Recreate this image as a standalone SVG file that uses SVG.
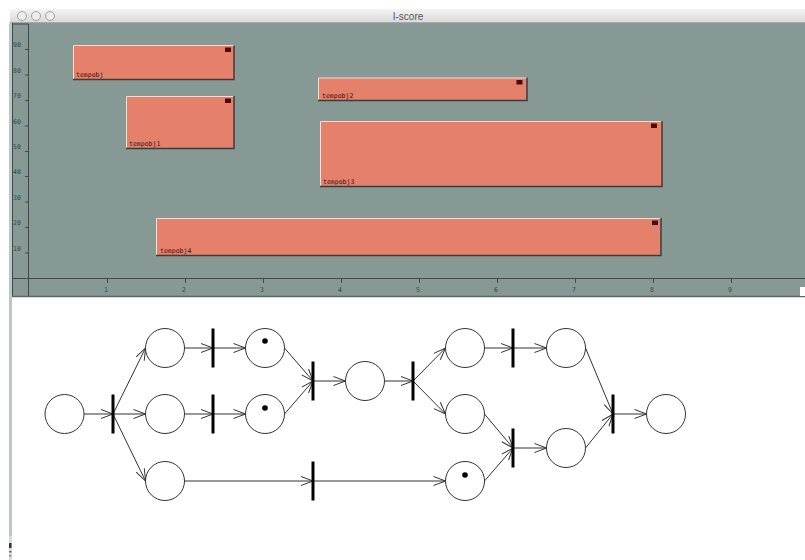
<svg xmlns="http://www.w3.org/2000/svg" width="805" height="560" viewBox="0 0 805 560">
<defs>
<linearGradient id="tb" x1="0" y1="0" x2="0" y2="1"><stop offset="0" stop-color="#f4f4f4"/><stop offset="1" stop-color="#d8d8d8"/></linearGradient>
<marker id="arr" markerWidth="14" markerHeight="12" refX="13" refY="5" orient="auto" markerUnits="userSpaceOnUse"><path d="M1,0.5 L13,5 L1,9.5" fill="none" stroke="#333" stroke-width="1"/></marker>
</defs>
<style>
.ax{font-family:"DejaVu Sans Mono","Liberation Mono",monospace;font-size:6.5px;fill:#3a4644}
.lbl{font-family:"DejaVu Sans Mono","Liberation Mono",monospace;font-size:6.5px;fill:#3a1212}
.box{fill:#e5806a}
.hi{fill:none;stroke:#f3dcd2;stroke-width:1}
.sh{fill:none;stroke:#3c3c3c;stroke-width:1.5}
.sq{fill:#4a0a0a}
.pl{fill:#fff;stroke:#333;stroke-width:1}
.tr{stroke:#000;stroke-width:3}
.tok{fill:#000}
.ed{stroke:#333;stroke-width:1;fill:none;marker-end:url(#arr)}
.grid{stroke:#3e4a48;stroke-width:1}
.tl{fill:#ededed;stroke:#a0a0a0;stroke-width:1}
</style>
<rect x="0" y="0" width="805" height="560" fill="#fff"/>
<g id="window">
<path d="M10,23 L10,13 Q10,9 14,9 L805,9 L805,23 Z" fill="url(#tb)"/>
<line x1="10" y1="22.5" x2="805" y2="22.5" stroke="#a8a8a8"/>
<circle class="tl" cx="22" cy="16" r="4.5"/>
<circle class="tl" cx="36" cy="16" r="4.5"/>
<circle class="tl" cx="50" cy="16" r="4.5"/>
<text x="408" y="20" text-anchor="middle" font-family="Liberation Sans, DejaVu Sans, sans-serif" font-size="10" fill="#555">I-score</text>
<rect x="9" y="23" width="3" height="513" fill="#b7c9c4"/>
<rect x="12" y="23" width="793" height="273" fill="#879995"/>
<line x1="12" y1="24" x2="28.5" y2="24" class="grid"/>
<line x1="12.5" y1="23" x2="12.5" y2="296" class="grid"/>
<line x1="28.5" y1="24" x2="28.5" y2="296" class="grid"/>
<line x1="12" y1="278.5" x2="805" y2="278.5" class="grid"/>
<line x1="12" y1="296.5" x2="805" y2="296.5" stroke="#5a6664" stroke-width="1.5"/>
<rect x="800" y="287" width="5" height="9" fill="#fff"/>
</g>
<g id="y-axis">
<g class="grid"><line x1="25" y1="49.5" x2="28" y2="49.5"/><line x1="25" y1="75" x2="28" y2="75"/><line x1="25" y1="100.5" x2="28" y2="100.5"/><line x1="25" y1="126" x2="28" y2="126"/><line x1="25" y1="151.5" x2="28" y2="151.5"/><line x1="25" y1="176.5" x2="28" y2="176.5"/><line x1="25" y1="202" x2="28" y2="202"/><line x1="25" y1="227.5" x2="28" y2="227.5"/><line x1="25" y1="253" x2="28" y2="253"/></g>
<text class="ax" x="13" y="47">90</text>
<text class="ax" x="13" y="72.5">80</text>
<text class="ax" x="13" y="98">70</text>
<text class="ax" x="13" y="123.5">60</text>
<text class="ax" x="13" y="149">50</text>
<text class="ax" x="13" y="174">40</text>
<text class="ax" x="13" y="199.5">30</text>
<text class="ax" x="13" y="225">20</text>
<text class="ax" x="13" y="250.5">10</text>
</g>
<g id="x-axis">
<g class="grid"><line x1="107.5" y1="279" x2="107.5" y2="283"/><line x1="185.5" y1="279" x2="185.5" y2="283"/><line x1="263.5" y1="279" x2="263.5" y2="283"/><line x1="341.5" y1="279" x2="341.5" y2="283"/><line x1="419.5" y1="279" x2="419.5" y2="283"/><line x1="497.5" y1="279" x2="497.5" y2="283"/><line x1="575.5" y1="279" x2="575.5" y2="283"/><line x1="653.5" y1="279" x2="653.5" y2="283"/><line x1="731.5" y1="279" x2="731.5" y2="283"/></g>
<g text-anchor="middle">
<text class="ax" x="106" y="291.5">1</text>
<text class="ax" x="184" y="291.5">2</text>
<text class="ax" x="262" y="291.5">3</text>
<text class="ax" x="340" y="291.5">4</text>
<text class="ax" x="418" y="291.5">5</text>
<text class="ax" x="496" y="291.5">6</text>
<text class="ax" x="574" y="291.5">7</text>
<text class="ax" x="652" y="291.5">8</text>
<text class="ax" x="730" y="291.5">9</text>
</g>
</g>
<g id="tempobj">
<rect class="box" x="73" y="45.5" width="161" height="34"/>
<polyline class="hi" points="73.5,79 73.5,45.5 234,45.5"/>
<polyline class="sh" points="73,79.5 234,79.5 234,45.5"/>
<rect class="sq" x="225" y="47.5" width="6" height="4.5"/>
<text class="lbl" x="76" y="77">tempobj</text>
</g>
<g id="tempobj1">
<rect class="box" x="126" y="96" width="108" height="52"/>
<polyline class="hi" points="126.5,148 126.5,96.5 234,96.5"/>
<polyline class="sh" points="126,148.5 234,148.5 234,96"/>
<rect class="sq" x="225" y="98.5" width="6" height="4.5"/>
<text class="lbl" x="129" y="145.5">tempobj1</text>
</g>
<g id="tempobj2">
<rect class="box" x="318" y="77.5" width="209" height="22.5"/>
<polyline class="hi" points="318.5,100 318.5,78 527,78"/>
<polyline class="sh" points="318,100.5 527,100.5 527,77.5"/>
<rect class="sq" x="516.5" y="80" width="6" height="4.5"/>
<text class="lbl" x="322" y="97.5">tempobj2</text>
</g>
<g id="tempobj3">
<rect class="box" x="320" y="121" width="342" height="65.5"/>
<polyline class="hi" points="320.5,186 320.5,121.5 662,121.5"/>
<polyline class="sh" points="320,186.5 662,186.5 662,121"/>
<rect class="sq" x="651" y="123.5" width="6" height="4.5"/>
<text class="lbl" x="323" y="183.5">tempobj3</text>
</g>
<g id="tempobj4">
<rect class="box" x="156" y="218" width="505" height="37.5"/>
<polyline class="hi" points="156.5,255 156.5,218.5 661,218.5"/>
<polyline class="sh" points="156,255.5 661,255.5 661,218"/>
<rect class="sq" x="652" y="220.5" width="6" height="4.5"/>
<text class="lbl" x="160" y="253">tempobj4</text>
</g>
<g id="left-edge">
<rect x="9" y="536" width="3" height="24" fill="#d6dcda"/>
<rect x="9" y="543" width="2.5" height="5" fill="#333"/>
<rect x="9" y="551" width="2.5" height="1.5" fill="#666"/>
<rect x="9" y="555" width="2.5" height="1.5" fill="#888"/>
</g>
<g id="connectors">
<line class="ed" x1="84" y1="414" x2="113" y2="414"/>
<line class="ed" x1="113" y1="414" x2="145.5" y2="348"/>
<line class="ed" x1="113" y1="414" x2="145.5" y2="414"/>
<line class="ed" x1="113" y1="414" x2="145.5" y2="481"/>
<line class="ed" x1="184.5" y1="348" x2="213" y2="348"/>
<line class="ed" x1="213" y1="348" x2="245.5" y2="348"/>
<line class="ed" x1="184.5" y1="414" x2="213" y2="414"/>
<line class="ed" x1="213" y1="414" x2="245.5" y2="414"/>
<line class="ed" x1="284.5" y1="348" x2="313" y2="381"/>
<line class="ed" x1="284.5" y1="414" x2="313" y2="381"/>
<line class="ed" x1="184.5" y1="481" x2="313" y2="481"/>
<line class="ed" x1="313" y1="381" x2="345.5" y2="381"/>
<line class="ed" x1="384.5" y1="381" x2="413" y2="381"/>
<line class="ed" x1="413" y1="381" x2="445.5" y2="348"/>
<line class="ed" x1="413" y1="381" x2="445.5" y2="414"/>
<line class="ed" x1="313" y1="481" x2="445.5" y2="481"/>
<line class="ed" x1="484.5" y1="348" x2="513" y2="348"/>
<line class="ed" x1="513" y1="348" x2="546.5" y2="348"/>
<line class="ed" x1="484.5" y1="414" x2="513" y2="448"/>
<line class="ed" x1="484.5" y1="481" x2="513" y2="448"/>
<line class="ed" x1="513" y1="448" x2="546.5" y2="448"/>
<line class="ed" x1="585.5" y1="348" x2="613" y2="414"/>
<line class="ed" x1="585.5" y1="448" x2="613" y2="414"/>
<line class="ed" x1="613" y1="414" x2="646.5" y2="414"/>
</g>
<g id="P0"><circle class="pl" cx="64.5" cy="414" r="19.5"/></g>
<g id="P1"><circle class="pl" cx="165" cy="348" r="19.5"/></g>
<g id="P2"><circle class="pl" cx="165" cy="414" r="19.5"/></g>
<g id="P3"><circle class="pl" cx="165" cy="481" r="19.5"/></g>
<g id="P4"><circle class="pl" cx="265" cy="348" r="19.5"/><circle class="tok" cx="265" cy="341" r="2.8"/></g>
<g id="P5"><circle class="pl" cx="265" cy="414" r="19.5"/><circle class="tok" cx="265" cy="408" r="2.8"/></g>
<g id="P6"><circle class="pl" cx="365" cy="381" r="19.5"/></g>
<g id="P7"><circle class="pl" cx="465" cy="348" r="19.5"/></g>
<g id="P8"><circle class="pl" cx="465" cy="414" r="19.5"/></g>
<g id="P9"><circle class="pl" cx="465" cy="481" r="19.5"/><circle class="tok" cx="465" cy="475" r="2.8"/></g>
<g id="P10"><circle class="pl" cx="566" cy="348" r="19.5"/></g>
<g id="P11"><circle class="pl" cx="566" cy="448" r="19.5"/></g>
<g id="P12"><circle class="pl" cx="666" cy="414" r="19.5"/></g>
<g id="T1"><line class="tr" x1="113" y1="394.5" x2="113" y2="433.5"/></g>
<g id="T2"><line class="tr" x1="213" y1="328.5" x2="213" y2="367.5"/></g>
<g id="T3"><line class="tr" x1="213" y1="394.5" x2="213" y2="433.5"/></g>
<g id="T4"><line class="tr" x1="313" y1="361.5" x2="313" y2="400.5"/></g>
<g id="T5"><line class="tr" x1="313" y1="461.5" x2="313" y2="500.5"/></g>
<g id="T6"><line class="tr" x1="413" y1="361.5" x2="413" y2="400.5"/></g>
<g id="T7"><line class="tr" x1="513" y1="328.5" x2="513" y2="367.5"/></g>
<g id="T8"><line class="tr" x1="513" y1="428.5" x2="513" y2="467.5"/></g>
<g id="T9"><line class="tr" x1="613" y1="394.5" x2="613" y2="433.5"/></g>
</svg>
